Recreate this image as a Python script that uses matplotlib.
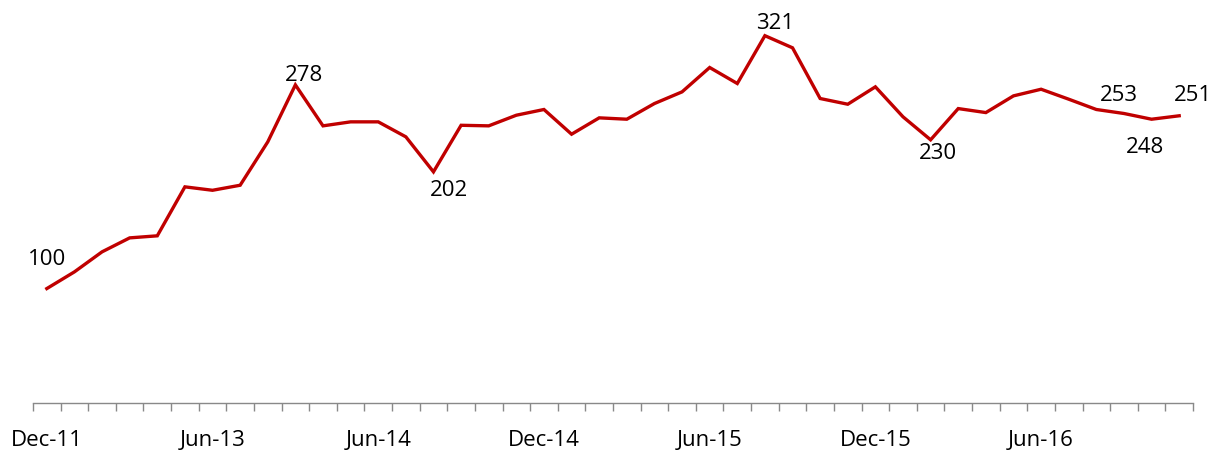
import matplotlib
matplotlib.use("Agg")
import matplotlib.pyplot as plt
import numpy as np

categories = ["Dec-11", "Mar-12", "Jun-12", "Sep-12", "Dec-12", "Mar-13", "Jun-13",
              "Aug-13", "Oct-13", "Dec-13", "Feb-14", "Apr-14", "Jun-14",
              "Jul-14", "Aug-14", "Sep-14", "Oct-14", "Nov-14", "Dec-14",
              "Jan-15", "Feb-15", "Mar-15", "Apr-15", "May-15", "Jun-15",
              "Jul-15", "Aug-15", "Sep-15", "Oct-15", "Nov-15", "Dec-15",
              "Jan-16", "Feb-16", "Mar-16", "Apr-16", "May-16", "Jun-16",
              "Jul-16", "Aug-16", "Sep-16", "Oct-16", "Nov-16"]
values = [100, 114.6, 132.1, 144.3, 146.1, 188.9, 185.9, 190.3, 228.2, 278,
          242.2, 245.7, 245.7, 232.6, 202, 242.7, 242.2, 251.5, 256.5, 234.9,
          249.2, 248.0, 261.7, 271.9, 293.2, 279.2, 321, 310.4, 266.1, 261.1,
          276.3, 250.1, 230, 257.3, 253.8, 268.4, 274.2, 265.5, 256.5, 253,
          248, 251]
tick_label_idx = [0, 6, 12, 18, 24, 30, 36]
# (index, text, offset in px: dx, dy)
annotations = [(0, "100", (0, 30.5)), (9, "278", (9, 10.5)), (14, "202", (16, -17.5)),
               (26, "321", (10.5, 13.5)), (32, "230", (7, -12.5)), (39, "253", (-5, 19)),
               (40, "248", (-6.5, -27)), (41, "251", (14, 21))]

plt.rcParams['font.family'] = ['Open Sans', 'DejaVu Sans']

W, H = 1221, 452
fig = plt.figure(figsize=(W / 100, H / 100), dpi=100)
ax = fig.add_axes([33 / W, (H - 404) / H, (1193 - 33) / W, (404 - 3.5) / H])

x = np.arange(len(values))
ax.plot(x, values, color="#C00000", linewidth=2.4, solid_joinstyle="miter")

ax.set_xlim(-0.5, len(values) - 0.5)
ax.set_ylim(0, 350)

for side in ["top", "right", "left"]:
    ax.spines[side].set_visible(False)
ax.spines["bottom"].set_color("#898989")
ax.spines["bottom"].set_linewidth(1.0)
ax.set_yticks([])

ax.set_xticks(np.arange(-0.5, len(values), 1.0))
ax.set_xticklabels([])
ax.tick_params(axis="x", which="major", direction="out", length=6, width=1.0, color="#898989")
ax.set_xticks(tick_label_idx, minor=True)
ax.set_xticklabels([categories[i] for i in tick_label_idx], minor=True)
ax.tick_params(axis="x", which="minor", length=0, pad=19, labelsize=16, labelcolor="black")

for idx, txt, (dx, dy) in annotations:
    ax.annotate(txt, (idx, values[idx]), xytext=(dx * 0.72, dy * 0.72),
                textcoords="offset points", ha="center", va="center", fontsize=16)

fig.savefig("out.png", dpi=100)
